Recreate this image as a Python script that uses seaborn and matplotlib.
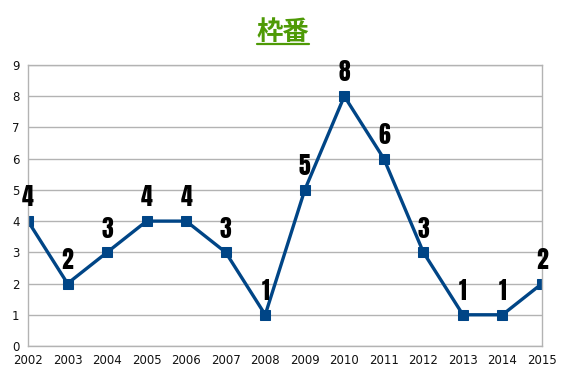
import matplotlib
matplotlib.use("Agg")
import matplotlib.pyplot as plt
import seaborn as sns
import pandas as pd
from matplotlib.lines import Line2D

years = [2002, 2003, 2004, 2005, 2006, 2007, 2008, 2009, 2010, 2011, 2012, 2013, 2014, 2015]
values = [4, 2, 3, 4, 4, 3, 1, 5, 8, 6, 3, 1, 1, 2]
title = "枠番"

sns.set_theme(style="white")
plt.rcParams['font.family'] = ['DejaVu Sans', 'Noto Sans CJK JP']

df = pd.DataFrame({"year": years, "value": values})

fig = plt.figure(figsize=(5.67, 3.78), dpi=100)
ax = fig.add_axes([28/567, 32/378, (542-28)/567, (346-65)/378])

sns.lineplot(data=df, x="year", y="value", ax=ax, color="#004586", linewidth=2.4,
             marker="s", markersize=7.5, markeredgecolor="#004586", markerfacecolor="#004586")

ax.set_xlim(years[0], years[-1])
ax.set_ylim(0, 9)
ax.set_xticks(years)
ax.set_xticklabels([str(y) for y in years])
ax.set_yticks(range(0, 10))
ax.set_xlabel("")
ax.set_ylabel("")
ax.yaxis.grid(True, color="#b3b3b3", linewidth=1)
ax.xaxis.grid(False)
for s in ["left", "bottom", "right", "top"]:
    ax.spines[s].set_color("#b3b3b3")
    ax.spines[s].set_linewidth(1)
ax.tick_params(axis="both", which="both", length=4, color="#b3b3b3", width=1,
               direction="out", labelsize=8.5, labelcolor="#111111", pad=2)

label_families = ["Anton", "Oswald", "Bebas Neue", "Barlow Condensed", "DejaVu Sans"]
for x, v in zip(years, values):
    ax.annotate(str(v), (x, v), xytext=(0, 8.5), textcoords="offset points",
                ha="center", va="bottom", fontsize=17,
                fontfamily=label_families, color="#000000",
                clip_on=False)

t = fig.text(283/567, 1 - 32/378, title, ha="center", va="center", fontsize=19,
             fontweight="bold", color="#4e9a06", fontfamily=["Noto Sans CJK JP", "DejaVu Sans"])
fig.canvas.draw()
bb = t.get_window_extent()
uy = (bb.y0 + 2) / fig.bbox.height
fig.add_artist(Line2D([bb.x0/fig.bbox.width, bb.x1/fig.bbox.width], [uy, uy],
                      color="#4e9a06", linewidth=1.6, transform=fig.transFigure))

fig.savefig("out.png", dpi=100)
